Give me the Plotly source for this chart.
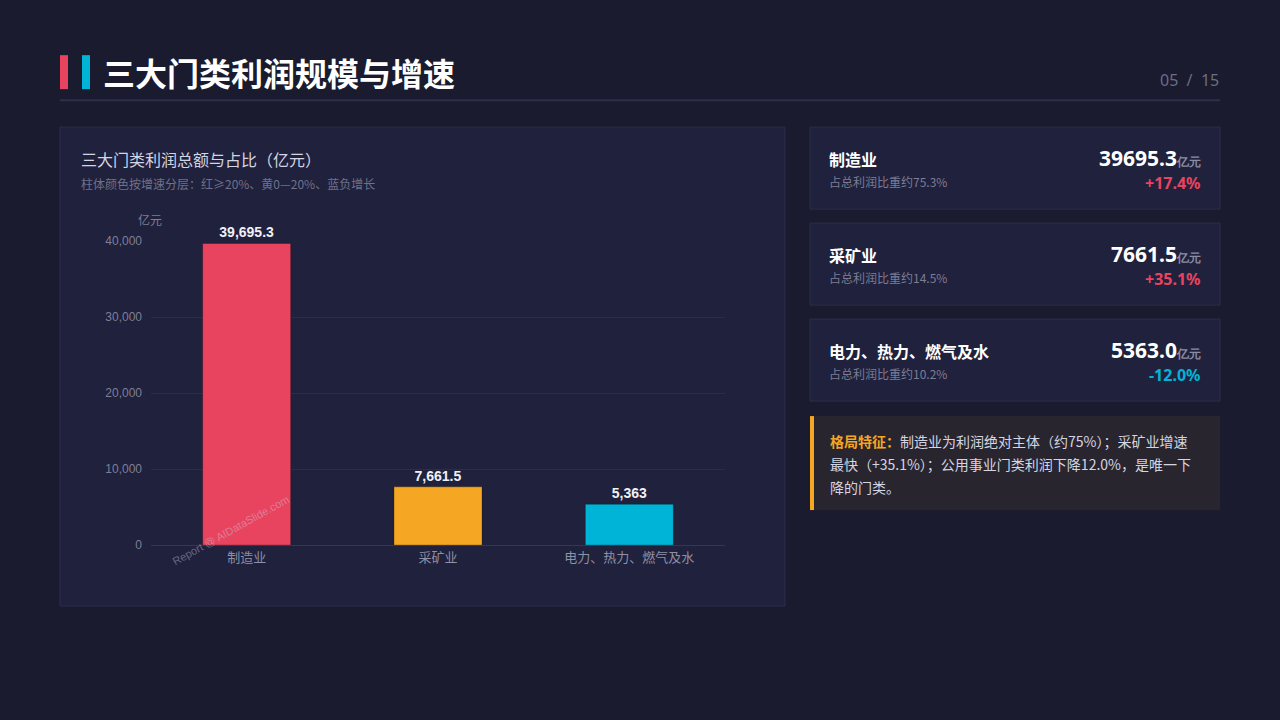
import plotly.graph_objects as go

# ---- data ----
categories = ["制造业", "采矿业", "电力、热力、燃气及水"]
profits = [39695.3, 7661.5, 5363.0]
growth = [17.4, 35.1, -12.0]
shares = [75.3, 14.5, 10.2]
bar_colors = ["#e8445f", "#f5a623", "#00b4d8"]
y_ticks = [0, 10000, 20000, 30000, 40000]
y_tick_labels = ["0", "10,000", "20,000", "30,000", "40,000"]

# page is 1280x720; the browser body keeps its default 8px margin,
# so the figure is 1264x704 and all page coordinates are shifted by 8px.
OFF = 8
W, H = 1280 - 2 * OFF, 720 - 2 * OFF
# observed vertical mapping of the capture: shown_y = VS * page_y + VB
VS, VB = 0.9803, 7.0
BG = "#1a1b2e"
PANEL = "#20213d"
BORDER = "#2d2e4b"
CJK = "Noto Sans CJK SC"
NUM = "Liberation Sans"

def px(x):
    return (x - OFF) / W

def py(y):
    return 1 - ((y - VB) / VS - OFF) / H

fig = go.Figure()
fig.add_trace(go.Bar(
    x=categories, y=profits,
    marker=dict(color=bar_colors, line=dict(color="rgba(0,0,0,0.25)", width=1)),
    width=0.46,
    text=profits, texttemplate="<b>%{y:,}</b>", textposition="outside",
    textfont=dict(family=NUM, size=14, color="#f0f0f5"),
    cliponaxis=False, hoverinfo="skip",
))

shapes = []
annotations = []

def rect(x0, y0, x1, y1, fill, line=None, lw=1):
    shapes.append(dict(type="rect", xref="paper", yref="paper",
                       x0=px(x0), x1=px(x1), y0=py(y1), y1=py(y0),
                       fillcolor=fill, line=dict(color=line or fill, width=lw if line else 0),
                       layer="below"))

def text(x, y, s, size, color, xanchor="left", family=CJK, yanchor="middle", angle=0):
    annotations.append(dict(x=px(x), y=py(y), xref="paper", yref="paper", text=s,
                            showarrow=False, xanchor=xanchor, yanchor=yanchor,
                            borderpad=0, borderwidth=0,
                            font=dict(size=size, color=color, family=family),
                            textangle=angle))

# header
rect(60, 55, 68, 89, "#e8445f")
rect(82, 55, 90, 89, "#00b4d8")
text(103, 72, "<b>三大门类利润规模与增速</b>", 32, "#ffffff")
text(1219, 80, "05  /  15", 16, "#6b6d85", xanchor="right", family="Noto Sans")
shapes.append(dict(type="line", xref="paper", yref="paper", x0=px(60), x1=px(1220),
                   y0=py(100), y1=py(100), line=dict(color="#2e2f4a", width=2), layer="below"))

# chart panel
rect(60, 127, 785, 606, PANEL, BORDER)
text(81, 159, "三大门类利润总额与占比（亿元）", 16, "#d4d5e2")
text(81, 183, "柱体颜色按增速分层：红≥20%、黄0—20%、蓝负增长", 12, "#6f7189")
text(150, 219, "亿元", 12, "#7d7f96", xanchor="center")
text(231, 530, "Report @ AIDataSlide.com", 11, "rgba(205,205,225,0.42)", xanchor="center",
     family=NUM, angle=-29)

# cards
card_tops = [127, 223, 319]
for i, top in enumerate(card_tops):
    rect(810, top, 1220, top + 82, PANEL, BORDER)
    text(829, top + 32, "<b>%s</b>" % categories[i], 16, "#ffffff")
    text(829, top + 54, "占总利润比重约%.1f%%" % shares[i], 12, "#7b7d95")
    text(1201, top + 31,
         "<b>%.1f</b><span style='font-size:12px;color:#8a8ca3'><b>亿元</b></span>" % profits[i],
         21, "#ffffff", xanchor="right", family="Noto Sans")
    gcol = "#e8445f" if growth[i] >= 0 else "#00b4d8"
    text(1201, top + 56, "<b>%+.1f%%</b>" % growth[i], 16, gcol, xanchor="right", family="Noto Sans")

# insight box
rect(810, 416, 1220, 510, "#29252f")
rect(810, 416, 814, 510, "#f5a623")
text(830, 441, "<span style='color:#f5a623'><b>格局特征：</b></span>制造业为利润绝对主体（约75%）；采矿业增速",
     14, "#d4d5e2")
text(830, 464, "最快（+35.1%）；公用事业门类利润下降12.0%，是唯一下", 14, "#d4d5e2")
text(830, 487, "降的门类。", 14, "#d4d5e2")

fig.update_layout(
    width=W, height=H,
    paper_bgcolor=BG, plot_bgcolor="rgba(0,0,0,0)",
    margin=dict(l=0, r=0, t=0, b=0),
    showlegend=False,
    shapes=shapes, annotations=annotations,
    xaxis=dict(domain=[px(151), px(725)], showgrid=False, showline=True,
               linecolor="#34355a", linewidth=1, ticks="",
               tickfont=dict(family=CJK, size=13, color="#8e90a6"), fixedrange=True),
    yaxis=dict(domain=[py(545), py(241)], range=[0, 40000], tickvals=y_ticks,
               ticktext=y_tick_labels, gridcolor="#2b2c48", gridwidth=1, zeroline=False,
               showline=False, ticks="", ticklabelstandoff=8,
               tickfont=dict(family=NUM, size=12, color="#7d7f96"), fixedrange=True),
)

fig.write_html(
    "out.html",
    config=dict(displayModeBar=False),
    post_script="document.documentElement.style.background='#1a1b2e';"
                "document.body.style.background='#1a1b2e';",
)
